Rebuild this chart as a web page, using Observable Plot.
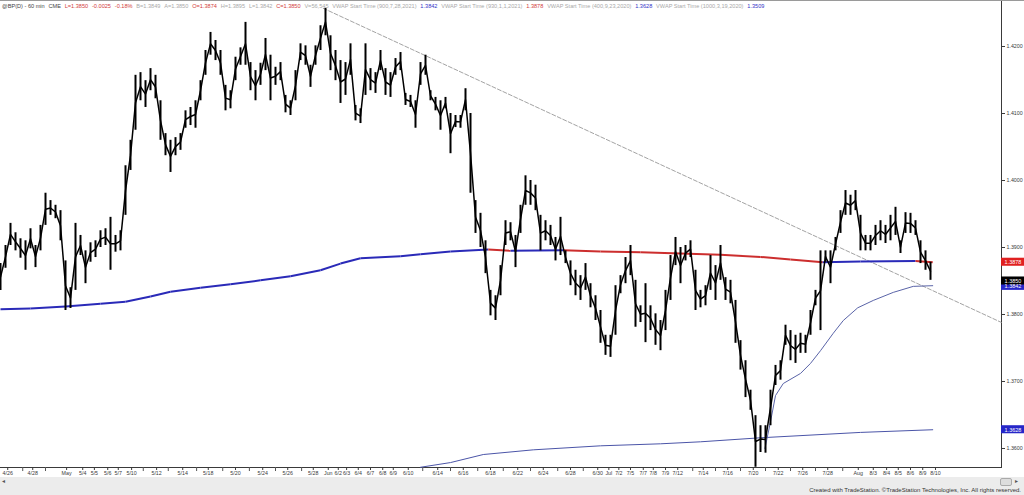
<!DOCTYPE html>
<html><head><meta charset="utf-8">
<script src="https://cdn.jsdelivr.net/npm/d3@7"></script>
<script src="https://cdn.jsdelivr.net/npm/@observablehq/plot@0.6"></script>
<style>
body{margin:0;background:#fff;font-family:"Liberation Sans",Arial,sans-serif;}
#wrap{position:relative;width:1024px;height:495px;overflow:hidden;background:#fff;}
#chart{position:absolute;left:0;top:0;}
#topline{position:absolute;left:0;top:0;width:1024px;height:1px;background:#9a9a9a;}
#hdr{position:absolute;left:2px;top:2px;font-size:5.6px;line-height:8px;white-space:nowrap;}
#hdr span{margin-right:3.8px;}
#footer{position:absolute;left:0;top:477px;width:1024px;height:18px;background:#ececec;}
#footer .credit{position:absolute;right:3px;bottom:2px;font-size:6px;color:#333;white-space:nowrap;}
#footer .lft{position:absolute;left:2px;top:0px;font-size:6px;color:#555;}
#footer .ico{position:absolute;left:1000px;top:1px;width:10px;height:6px;border:1px solid #aaa;border-radius:2px;background:#ddd;}
#footer .arr{position:absolute;left:1015px;top:0px;font-size:6px;color:#555;}
</style></head><body>
<div id="wrap"><div id="chart"></div><div id="topline"></div><div id="hdr"></div>
<div id="footer"><span class="lft">◂</span><span class="ico"></span><span class="arr">▸</span><span class="credit">Created with TradeStation. ©TradeStation Technologies, Inc. All rights reserved.</span></div></div>
<script>
// ---- price samples (every 9 hourly bars): highs and lows ----
const hi = [1.3876,1.3903,1.3936,1.3922,1.3913,1.3910,1.3928,1.3903,1.3933,1.3981,
1.3970,1.3963,1.3955,1.3880,1.3840,1.3936,1.3918,1.3895,1.3907,1.3910,
1.3925,1.3928,1.3945,1.3918,1.3925,1.4022,1.4060,1.4157,1.4161,1.4149,
1.4167,1.4157,1.4119,1.4070,1.4060,1.4064,1.4070,1.4104,1.4109,1.4119,
1.4149,1.4194,1.4221,1.4209,1.4194,1.4142,1.4134,1.4184,1.4198,1.4236,
1.4176,1.4164,1.4175,1.4212,1.4187,1.4169,1.4176,1.4127,1.4119,1.4164,
1.4204,1.4201,1.4172,1.4201,1.4231,1.4257,1.4216,1.4194,1.4179,1.4176,
1.4204,1.4112,1.4107,1.4204,1.4167,1.4161,1.4194,1.4167,1.4161,1.4182,
1.4191,1.4130,1.4127,1.4119,1.4176,1.4187,1.4134,1.4124,1.4119,1.4124,
1.4100,1.4097,1.4097,1.4137,1.4100,1.3970,1.3951,1.3910,1.3836,1.3828,
1.3873,1.3940,1.3937,1.3918,1.3963,1.4007,1.4000,1.3993,1.3948,1.3940,
1.3933,1.3915,1.3945,1.3895,1.3880,1.3866,1.3858,1.3876,1.3846,1.3828,
1.3806,1.3769,1.3769,1.3843,1.3858,1.3885,1.3903,1.3851,1.3813,1.3846,
1.3813,1.3801,1.3791,1.3836,1.3888,1.3915,1.3900,1.3903,1.3910,1.3866,
1.3836,1.3843,1.3888,1.3873,1.3903,1.3855,1.3851,1.3821,1.3761,1.3731,
1.3687,1.3649,1.3634,1.3634,1.3687,1.3724,1.3731,1.3784,1.3776,1.3769,
1.3772,1.3769,1.3806,1.3836,1.3895,1.3895,1.3895,1.3915,1.3955,1.3985,
1.3978,1.3985,1.3948,1.3918,1.3918,1.3933,1.3940,1.3933,1.3948,1.3960,
1.3910,1.3952,1.3951,1.3940,1.3910,1.3895,1.3878];
const lo = [1.3836,1.3869,1.3903,1.3895,1.3884,1.3866,1.3898,1.3870,1.3895,1.3933,
1.3948,1.3943,1.3910,1.3806,1.3809,1.3836,1.3888,1.3846,1.3878,1.3885,
1.3900,1.3903,1.3866,1.3893,1.3895,1.3948,1.4015,1.4075,1.4119,1.4109,
1.4134,1.4122,1.4060,1.4037,1.4012,1.4037,1.4045,1.4078,1.4082,1.4078,
1.4119,1.4157,1.4187,1.4179,1.4157,1.4104,1.4107,1.4149,1.4172,1.4172,
1.4134,1.4119,1.4142,1.4164,1.4119,1.4142,1.4149,1.4101,1.4097,1.4119,
1.4179,1.4172,1.4139,1.4172,1.4194,1.4216,1.4164,1.4149,1.4115,1.4127,
1.4157,1.4089,1.4085,1.4127,1.4134,1.4130,1.4164,1.4127,1.4124,1.4157,
1.4164,1.4112,1.4109,1.4078,1.4142,1.4157,1.4119,1.4104,1.4075,1.4107,
1.4040,1.4079,1.4078,1.4104,1.3981,1.3921,1.3900,1.3861,1.3798,1.3791,
1.3828,1.3903,1.3910,1.3870,1.3921,1.3963,1.3963,1.3955,1.3895,1.3910,
1.3903,1.3880,1.3888,1.3876,1.3843,1.3828,1.3821,1.3836,1.3810,1.3791,
1.3757,1.3739,1.3736,1.3769,1.3831,1.3846,1.3858,1.3781,1.3788,1.3758,
1.3776,1.3754,1.3746,1.3776,1.3821,1.3873,1.3846,1.3880,1.3885,1.3806,
1.3810,1.3813,1.3836,1.3821,1.3851,1.3821,1.3816,1.3757,1.3717,1.3676,
1.3657,1.3572,1.3594,1.3593,1.3634,1.3694,1.3702,1.3754,1.3731,1.3727,
1.3742,1.3742,1.3769,1.3813,1.3776,1.3878,1.3846,1.3895,1.3921,1.3948,
1.3948,1.3955,1.3895,1.3895,1.3895,1.3903,1.3910,1.3906,1.3910,1.3918,
1.3891,1.3921,1.3921,1.3918,1.3876,1.3866,1.3851];
const barsPerSample = 9;

// ---- VWAP (start 1/1/2021), thick, coloured by direction ----
const vwapBars = [0,54,117,180,225,270,306,360,414,468,522,576,612,648,720,756,810,878,918,1013,1080,1152,1224,1296,1368,1422,1480,1548,1647,1678];
const vwapVals = [1.3808,1.3809,1.3812,1.3816,1.3819,1.3827,1.3834,1.3840,1.3845,1.3851,1.3857,1.3866,1.3876,1.3884,1.3887,1.3890,1.3894,1.3897,1.3895,1.3896,1.3894,1.3893,1.3891,1.3889,1.3886,1.3882,1.3878,1.3879,1.3880,1.3878];
// ---- VWAP (start 9/23/2020), thin ----
const lowVwapBars = [756,810,869,959,1080,1188,1260,1368,1548,1678];
const lowVwapVals = [1.3572,1.3579,1.3591,1.3598,1.3604,1.3607,1.3610,1.3616,1.3624,1.3628];
// ---- VWAP anchored after the July low, thin ----
const riseVwapBars = [1376,1386,1395,1409,1440,1458,1476,1499,1517,1543,1571,1607,1643,1678];
const riseVwapVals = [1.3600,1.3640,1.3679,1.3697,1.3712,1.3727,1.3746,1.3772,1.3791,1.3810,1.3821,1.3833,1.3842,1.3843];
// ---- down trendline ----
const trendBars = [581,1802];
const trendVals = [1.4257,1.3788];

// ---- axes ----
const priceTicks = [1.36,1.37,1.38,1.39,1.40,1.41,1.42];
const dateTicks = [13,58,119,148,169,193,212,236,281,328,374,423,472,517,563,590,608,623,644,666,688,707,734,787,833,882,931,977,1026,1075,1095,1113,1134,1157,1175,1197,1219,1265,1309,1355,1400,1444,1489,1544,1571,1595,1616,1638,1660,1683];
const dateLabels = ["4/26","4/28","May","5/4","5/5","5/6","5/7","5/10","5/12","5/14","5/18","5/20","5/24","5/26","5/28","Jun","6/2","6/3","6/4","6/7","6/8","6/9","6/10","6/14","6/16","6/18","6/22","6/24","6/28","6/30","Jul","7/2","7/5","7/7","7/8","7/9","7/12","7/14","7/16","7/20","7/22","7/26","7/28","Aug","8/3","8/4","8/5","8/6","8/9","8/10"];
const minorTicks = [40,81,257,302,353,400,448,495,542,760,810,859,905,954,1003,1049,1246,1287,1332,1377,1422,1467,1516];

// ---- last-value markers on the price axis ----
const markerVals = [1.3878,1.3628,1.3842,1.3850];
const markerColors = ["#e02020","#2626c8","#2626c8","#000000"];

// ---- header ----
const RED="#d23c3c", GRAY="#a9a9a9", BLUE="#3434c8", DARK="#444";
const headerText = ["@BP(D) - 60 min","CME","L=1.3850","-0.0025","-0.18%","B=1.3849","A=1.3850","O=1.3874","H=1.3895","L=1.3842","C=1.3850","V=56,545",
 "VWAP Start Time (900,7,28,2021)","1.3842","VWAP Start Time (930,1,1,2021)","1.3878","VWAP Start Time (400,9,23,2020)","1.3628","VWAP Start Time (1000,3,19,2020)","1.3509"];
const headerColor = [DARK,DARK,RED,RED,RED,GRAY,GRAY,RED,GRAY,GRAY,RED,GRAY,GRAY,BLUE,GRAY,RED,GRAY,BLUE,GRAY,BLUE];

const hdr = document.getElementById("hdr");
headerText.forEach((t,i)=>{const s=document.createElement("span");s.textContent=t;s.style.color=headerColor[i];hdr.appendChild(s);});

const xMax = 1801.8, yMin = 1.357164, yMax = 1.426866;
const samples = hi.map((h,i)=>({t:i*barsPerSample, hi:h, lo:lo[i]}));
const vwapSegs = vwapBars.slice(1).map((b,i)=>({x1:vwapBars[i], y1:vwapVals[i], x2:b, y2:vwapVals[i+1], up: vwapVals[i+1] > vwapVals[i]}));
const lowVwap = lowVwapBars.map((b,i)=>({t:b, v:lowVwapVals[i]}));
const riseVwap = riseVwapBars.map((b,i)=>({t:b, v:riseVwapVals[i]}));
const trend = trendBars.map((b,i)=>({t:b, v:trendVals[i]}));
const markers = markerVals.map((v,i)=>({v, c:markerColors[i]}));
const labelOf = new Map(dateTicks.map((d,i)=>[d,dateLabels[i]]));
const boxW = 41.4; // bars spanning the right margin

const chart = Plot.plot({
  width:1024, height:477, marginLeft:0, marginRight:23, marginTop:0, marginBottom:10,
  style:{background:"white", fontFamily:"Liberation Sans, Arial, sans-serif", fontSize:"5.3px", color:"#3a3a3a", overflow:"visible"},
  x:{domain:[0,xMax], ticks:dateTicks, tickFormat:d=>labelOf.get(d), tickSize:3, tickPadding:1, line:true, label:null},
  y:{domain:[yMin,yMax], axis:"right", ticks:priceTicks, tickFormat:d=>d.toFixed(4), tickSize:3, tickPadding:2, line:true, label:null},
  marks:[
    Plot.ruleX(minorTicks, {x:d=>d, y1:yMin, y2:yMin-0.0006, stroke:"#555"}),
    Plot.line(trend, {x:"t", y:"v", stroke:"#8c8c8c", strokeWidth:0.8, strokeDasharray:"4,2"}),
    Plot.line(lowVwap, {x:"t", y:"v", stroke:"#4b55a8", strokeWidth:1}),
    Plot.line(riseVwap, {x:"t", y:"v", stroke:"#5a64a8", strokeWidth:1}),
    Plot.link(vwapSegs, {x1:"x1", y1:"y1", x2:"x2", y2:"y2", stroke:d=>d.up?"#2a2ab8":"#cc2e2e", strokeWidth:2}),
    Plot.ruleX(samples, {x:"t", y1:"lo", y2:"hi", stroke:"#000", strokeWidth:2}),
    Plot.line(samples, {x:"t", y:d=>(d.hi+d.lo)/2, stroke:"#000", strokeWidth:1.5}),
    Plot.rect(markers, {x1:()=>xMax, x2:()=>xMax+boxW, y1:d=>d.v-0.0006, y2:d=>d.v+0.0006, fill:"c"}),
    Plot.text(markers, {x:()=>xMax+boxW/2, y:"v", text:d=>d.v.toFixed(4), fill:"white", fontSize:5.5})
  ]
});
document.getElementById("chart").appendChild(chart);
</script>
</body></html>
